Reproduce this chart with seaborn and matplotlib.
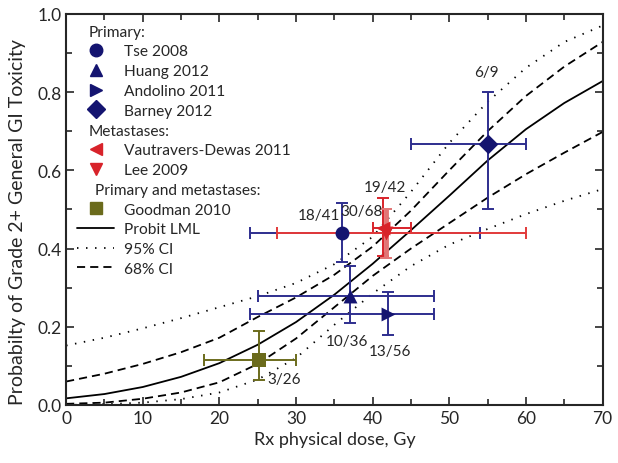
import numpy as np
import pandas as pd
import matplotlib
matplotlib.use("Agg")
import matplotlib.pyplot as plt
import seaborn as sns
from matplotlib.lines import Line2D
from matplotlib.ticker import MultipleLocator

# Model curves (dose in Gy)
dose = [0, 5, 10, 15, 20, 25, 30, 35, 40, 45, 50, 55, 60, 65, 70]
probit_lml = [0.017, 0.028, 0.046, 0.072, 0.107, 0.154, 0.212, 0.282, 0.361, 0.447, 0.535, 0.625, 0.705, 0.772, 0.828]
ci68_upper = [0.060, 0.080, 0.105, 0.135, 0.172, 0.225, 0.275, 0.333, 0.405, 0.497, 0.600, 0.700, 0.790, 0.865, 0.928]
ci68_lower = [0.003, 0.006, 0.016, 0.032, 0.058, 0.105, 0.170, 0.250, 0.330, 0.400, 0.465, 0.530, 0.590, 0.645, 0.698]
ci95_upper = [0.152, 0.172, 0.196, 0.222, 0.250, 0.278, 0.312, 0.360, 0.430, 0.545, 0.670, 0.775, 0.862, 0.928, 0.970]
ci95_lower = [0.000, 0.002, 0.006, 0.015, 0.032, 0.065, 0.120, 0.205, 0.285, 0.355, 0.410, 0.450, 0.488, 0.522, 0.552]

# Clinical studies
studies = ["Tse 2008", "Huang 2012", "Andolino 2011", "Barney 2012",
           "Vautravers-Dewas 2011", "Lee 2009", "Goodman 2010"]
study_dose = [36, 37, 42, 55, 41.3, 41.7, 25.2]
dose_low = [24, 25, 24, 45, 40, 27.5, 18]
dose_high = [54, 48, 48, 60, 45, 60, 30]
study_prob = [0.439, 0.278, 0.232, 0.667, 0.452, 0.441, 0.115]
prob_low = [0.366, 0.21, 0.18, 0.50, 0.38, 0.376, 0.065]
prob_high = [0.517, 0.356, 0.29, 0.80, 0.53, 0.50, 0.19]
counts = ["18/41", "10/36", "13/56", "6/9", "19/42", "30/68", "3/26"]
count_x = [33, 36.6, 42.3, 54.9, 41.6, 38.6, 28.4]
count_y = [0.486, 0.164, 0.138, 0.852, 0.558, 0.496, 0.066]

navy = "#141470"
bar_blue = "#2e2e8e"
red = "#d8232a"
olive = "#6b6b1c"
markers = ["o", "^", ">", "D", "<", "v", "s"]
colors = [navy, navy, navy, navy, red, red, olive]
xbar_colors = [bar_blue, bar_blue, bar_blue, bar_blue, red, "#e23a3a", olive]
ybar_colors = [bar_blue, bar_blue, bar_blue, bar_blue, red, "#e27575", olive]
ybar_widths = [1.4, 1.4, 1.4, 1.4, 1.4, 3.5, 1.4]

sns.set_style("ticks")
plt.rcParams["font.family"] = ["Lato", "DejaVu Sans"]

fig, ax = plt.subplots(figsize=(6.18, 4.64), dpi=100)
fig.subplots_adjust(left=0.107, right=0.975, top=0.968, bottom=0.125)

curves = pd.DataFrame({"dose": dose, "lml": probit_lml,
                       "u68": ci68_upper, "l68": ci68_lower,
                       "u95": ci95_upper, "l95": ci95_lower})
dotted = (0, (0.8, 4.2))
dashed = (0, (4.5, 2.8))
for col in ["u95", "l95"]:
    sns.lineplot(data=curves, x="dose", y=col, ax=ax, color="black", lw=1.3, linestyle=dotted)
for col in ["u68", "l68"]:
    sns.lineplot(data=curves, x="dose", y=col, ax=ax, color="black", lw=1.3, linestyle=dashed)
sns.lineplot(data=curves, x="dose", y="lml", ax=ax, color="black", lw=1.3)

pts = pd.DataFrame({"study": studies, "dose": study_dose, "prob": study_prob,
                    "dlo": dose_low, "dhi": dose_high, "plo": prob_low, "phi": prob_high})
for i, r in pts.iterrows():
    ax.errorbar(r["dose"], r["prob"], xerr=[[r["dose"] - r["dlo"]], [r["dhi"] - r["dose"]]],
                fmt="none", ecolor=xbar_colors[i], elinewidth=1.4, capsize=4, capthick=1.4, zorder=3)
    ax.errorbar(r["dose"], r["prob"], yerr=[[r["prob"] - r["plo"]], [r["phi"] - r["prob"]]],
                fmt="none", ecolor=ybar_colors[i], elinewidth=ybar_widths[i], capsize=4,
                capthick=1.4, zorder=3)
for i, r in pts.iterrows():
    sns.scatterplot(x=[r["dose"]], y=[r["prob"]], ax=ax, marker=markers[i], color=colors[i],
                    s=100, edgecolor=colors[i], linewidth=0, zorder=4)

for txt, x, y in zip(counts, count_x, count_y):
    ax.text(x, y, txt, ha="center", va="center", fontsize=11)

ax.set_xlim(0, 70)
ax.set_ylim(0, 1.0)
ax.xaxis.set_major_locator(MultipleLocator(10))
ax.xaxis.set_minor_locator(MultipleLocator(5))
ax.yaxis.set_major_locator(MultipleLocator(0.2))
ax.yaxis.set_minor_locator(MultipleLocator(0.1))
ax.tick_params(which="both", direction="in", top=True, right=True, width=1.2)
ax.tick_params(which="major", length=6, labelsize=12.5)
ax.tick_params(which="minor", length=4)
for s in ax.spines.values():
    s.set_linewidth(1.5)
ax.set_xlabel("Rx physical dose, Gy", fontsize=13)
ax.set_ylabel("Probabilty of Grade 2+ General GI Toxicity", fontsize=14)
ax.yaxis.set_label_coords(-0.075, 0.47)

# legend with group headers
blank = Line2D([], [], color="none")
def mk(m, c):
    return Line2D([], [], marker=m, color=c, linestyle="none", markersize=9)
headers = ["Primary:", "Metastases:", "Primary and metastases:"]
handles = [blank, mk("o", navy), mk("^", navy), mk(">", navy), mk("D", navy),
           blank, mk("<", red), mk("v", red),
           blank, mk("s", olive),
           Line2D([], [], color="black", lw=1.3),
           Line2D([], [], color="black", lw=1.3, linestyle=dotted),
           Line2D([], [], color="black", lw=1.3, linestyle=dashed)]
labels = [headers[0], studies[0], studies[1], studies[2], studies[3],
          headers[1], studies[4], studies[5],
          headers[2], studies[6],
          "Probit LML", "95% CI", "68% CI"]
leg = ax.legend(handles, labels, loc="upper left", frameon=False, fontsize=11.2,
                handlelength=2.4, handletextpad=0.6, labelspacing=0.37, borderaxespad=0.3)
for t in leg.get_texts():
    if t.get_text() == "Primary and metastases:":
        t.set_x(-29)
    elif t.get_text() in headers:
        t.set_x(-35)

fig.savefig("out.png", dpi=100)
